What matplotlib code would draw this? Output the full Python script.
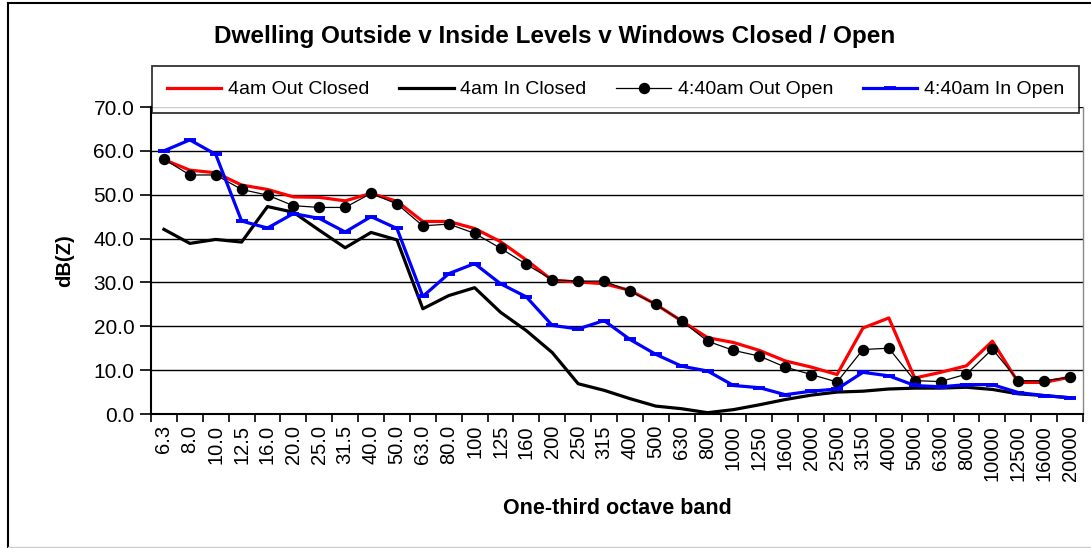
import matplotlib
matplotlib.use("Agg")
import matplotlib.pyplot as plt
from matplotlib.lines import Line2D
from matplotlib.ticker import FixedLocator, FormatStrFormatter

plt.rcParams['font.family'] = ['Liberation Sans', 'DejaVu Sans']

bands = ['6.3', '8.0', '10.0', '12.5', '16.0', '20.0', '25.0', '31.5', '40.0', '50.0',
         '63.0', '80.0', '100', '125', '160', '200', '250', '315', '400', '500',
         '630', '800', '1000', '1250', '1600', '2000', '2500', '3150', '4000', '5000',
         '6300', '8000', '10000', '12500', '16000', '20000']

out_closed_4am = [58.0, 55.6, 55.0, 52.2, 51.2, 49.5, 49.4, 48.6, 50.3, 48.5,
                  43.9, 43.9, 42.3, 39.3, 35.1, 30.5, 30.1, 29.7, 28.2, 25.0,
                  21.2, 17.4, 16.3, 14.5, 12.1, 10.7, 9.0, 19.6, 21.9, 8.2,
                  9.5, 11.0, 16.6, 7.2, 7.2, 8.4]

in_closed_4am = [42.1, 38.9, 39.8, 39.2, 47.3, 46.0, 41.9, 37.9, 41.4, 39.7,
                 24.0, 27.0, 28.8, 23.2, 19.0, 14.0, 6.9, 5.4, 3.5, 1.8,
                 1.2, 0.3, 1.0, 2.1, 3.3, 4.3, 5.0, 5.2, 5.7, 5.9,
                 5.9, 6.1, 5.6, 4.6, 4.2, 3.7]

out_open_440am = [58.1, 54.5, 54.5, 51.2, 49.9, 47.5, 47.1, 47.1, 50.3, 47.9,
                  42.9, 43.3, 41.2, 37.8, 34.1, 30.6, 30.3, 30.3, 28.0, 25.0,
                  21.2, 16.6, 14.5, 13.2, 10.7, 9.0, 7.3, 14.7, 15.0, 7.6,
                  7.4, 9.1, 14.8, 7.6, 7.6, 8.4]

in_open_440am = [60.0, 62.5, 59.2, 44.0, 42.4, 45.7, 44.6, 41.5, 45.0, 42.3,
                 26.8, 32.0, 34.3, 29.7, 26.7, 20.2, 19.4, 21.3, 17.0, 13.6,
                 10.9, 9.8, 6.5, 6.0, 4.4, 5.2, 5.7, 9.5, 8.7, 6.5,
                 6.2, 6.7, 6.7, 4.9, 4.2, 3.7]

W, H = 1091, 548
fig = plt.figure(figsize=(W / 100, H / 100), dpi=100)
ax = fig.add_axes([151 / W, 1 - 414 / H, (1083 - 151) / W, (414 - 107) / H])

x = list(range(len(bands)))
ax.plot(x, out_closed_4am, color='#ff0000', lw=2.3, label='4am Out Closed', zorder=3)
ax.plot(x, in_closed_4am, color='black', lw=2.3, label='4am In Closed', zorder=4)
ax.plot(x, out_open_440am, color='black', lw=0.9, marker='o', ms=7.2,
        label='4:40am Out Open', zorder=5)
ax.plot(x, in_open_440am, color='#0000ff', lw=2.3, marker='_', ms=9, mew=2.8,
        label='4:40am In Open', zorder=6)

ax.set_xlim(-0.5, len(bands) - 0.5)
ax.set_ylim(0, 70)
ax.yaxis.set_major_locator(FixedLocator([0, 10, 20, 30, 40, 50, 60, 70]))
ax.yaxis.set_major_formatter(FormatStrFormatter('%.1f'))
ax.grid(axis='y', color='black', lw=1.0)
ax.set_axisbelow(True)

ax.set_xticks(x)
ax.set_xticklabels(bands, rotation=90, fontsize=14.5)
ax.set_xticks([i - 0.5 for i in range(len(bands) + 1)], minor=True)
ax.tick_params(axis='x', which='major', length=0, pad=8)
ax.tick_params(axis='x', which='minor', length=6, width=1.2, direction='out')
ax.tick_params(axis='y', length=8, width=1.2, labelsize=15, pad=4)

ax.spines['top'].set_visible(False)
ax.spines['right'].set_color('#888888')
ax.spines['right'].set_linewidth(1.0)
ax.spines['left'].set_linewidth(1.5)
ax.spines['bottom'].set_linewidth(1.5)

ax.set_ylabel('dB(Z)', fontsize=14.5, fontweight='bold', labelpad=14)
ax.set_xlabel('One-third octave band', fontsize=15.5, fontweight='bold', labelpad=12)

fig.text(555 / W, 1 - 37 / H, 'Dwelling Outside v Inside Levels v Windows Closed / Open',
         ha='center', va='center', fontsize=17.5, fontweight='bold')

leg = fig.legend(loc='lower left',
                 bbox_to_anchor=(152 / W, 1 - 113 / H, (1079 - 152) / W, 44 / H),
                 mode='expand', ncol=4, fontsize=14, frameon=True, fancybox=False,
                 edgecolor='black', handlelength=2.8, handletextpad=0.35,
                 borderaxespad=0, borderpad=0.75)
leg.get_frame().set_linewidth(1.3)
leg.set_zorder(10)

# outer chart frame
fig.add_artist(Line2D([8 / W, 8 / W], [1 - 3 / H, 1 - 547 / H], color='black', lw=1.5))
fig.add_artist(Line2D([8 / W, 1.0], [1 - 3 / H, 1 - 3 / H], color='black', lw=1.5))
fig.add_artist(Line2D([8 / W, 1.0], [1 - 547 / H, 1 - 547 / H], color='#cccccc', lw=1.0))

fig.savefig('out.png', dpi=100)
